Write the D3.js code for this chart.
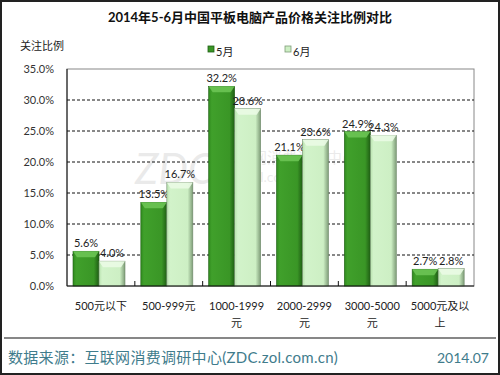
<!DOCTYPE html>
<html lang="zh">
<head>
<meta charset="UTF-8">
<title>2014年5-6月中国平板电脑产品价格关注比例对比</title>
<script src="https://cdnjs.cloudflare.com/ajax/libs/d3/7.8.5/d3.min.js"></script>
<style>
    body { margin: 0; background: #fff; }
    svg { display: block; }
    text { font-family: "Lato", "Noto Sans CJK SC", sans-serif; }
</style>
</head>
<body>
<svg id="chart" width="500" height="375"></svg>
<script>
    const categories = ["500元以下", "500-999元", "1000-1999\n元", "2000-2999\n元", "3000-5000\n元", "5000元及以\n上"];
    const seriesNames = ["5月", "6月"];
    const may = [5.6, 13.5, 32.2, 21.1, 24.9, 2.7];
    const june = [4.0, 16.7, 28.6, 23.6, 24.3, 2.8];
    const yTicks = [0, 5, 10, 15, 20, 25, 30, 35];

    const svg = d3.select("#chart");
    const W = 500, H = 375;
    const m = { left: 67, right: 474, top: 69, bottom: 286 };

    // outer frame
    svg.append("rect").attr("x", 1).attr("y", 1).attr("width", W - 2).attr("height", H - 2)
        .attr("fill", "#fff").attr("stroke", "#222").attr("stroke-width", 2);

    const defs = svg.append("defs");
    function grad(id, stops) {
        const g = defs.append("linearGradient").attr("id", id).attr("x1", 0).attr("x2", 1).attr("y1", 0).attr("y2", 0);
        stops.forEach(s => g.append("stop").attr("offset", s[0]).attr("stop-color", s[1]));
    }
    grad("gMay", [[0, "#2f8a1e"], [0.12, "#40a02b"], [0.8, "#3a9626"], [1, "#1f5e14"]]);
    grad("gJun", [[0, "#b8e2ae"], [0.12, "#d2f3ca"], [0.8, "#cdefc4"], [1, "#7e9c78"]]);
    const topCol = ["#6cc454", "#eafbe4"];
    const fills = ["url(#gMay)", "url(#gJun)"];

    const x = d3.scaleBand().domain(categories).range([m.left, m.right]);
    const xs = d3.scaleBand().domain(seriesNames).range([6, 58]).paddingInner(0);
    const y = d3.scaleLinear().domain([0, 35]).range([m.bottom, m.top]);

    // title
    svg.append("text").attr("x", 250).attr("y", 22).attr("text-anchor", "middle")
        .attr("font-size", 13).attr("font-weight", "bold").attr("fill", "#111")
        .text("2014年5-6月中国平板电脑产品价格关注比例对比");
    svg.append("text").attr("x", 20).attr("y", 50).attr("font-size", 11).attr("fill", "#222").text("关注比例");

    // legend
    const leg = svg.append("g");
    seriesNames.forEach((s, i) => {
        const lx = 208 + i * 77;
        leg.append("rect").attr("x", lx).attr("y", 46).attr("width", 6).attr("height", 6)
            .attr("fill", i === 0 ? "#3a9626" : "#cdefc4").attr("stroke", i === 0 ? "#1f5e14" : "#7e9c78").attr("stroke-width", 0.8);
        leg.append("text").attr("x", lx + 8).attr("y", 56).attr("font-size", 11).attr("fill", "#222").text(s);
    });

    // plot border (top/right)
    svg.append("rect").attr("x", m.left).attr("y", m.top).attr("width", m.right - m.left).attr("height", m.bottom - m.top)
        .attr("fill", "none").attr("stroke", "#888").attr("stroke-width", 1);

    // watermark
    const wm = svg.append("g").attr("fill", "#000").attr("opacity", 0.08);
    wm.append("text").attr("x", 135).attr("y", 184).attr("font-size", 42).attr("font-style", "italic").text("ZDC");
    wm.append("text").attr("x", 222).attr("y", 163).attr("font-size", 15).text("互联网消费调研中心");
    wm.append("text").attr("x", 222).attr("y", 182).attr("font-size", 14).text("zdc.zol.com.cn");

    // grid
    svg.append("g").selectAll("line").data(yTicks.filter(t => t > 0 && t < 35)).join("line")
        .attr("x1", m.left).attr("x2", m.right).attr("y1", d => y(d)).attr("y2", d => y(d))
        .attr("stroke", "#111").attr("stroke-dasharray", "3,2").attr("stroke-width", 1);

    // y axis labels
    svg.append("g").selectAll("text").data(yTicks).join("text")
        .attr("x", 54).attr("y", d => y(d) + 4).attr("text-anchor", "end")
        .attr("font-size", 11).attr("fill", "#333").text(d => d.toFixed(1) + "%");

    // bars
    const series = [may, june];
    const bw = xs.bandwidth();
    series.forEach((vals, si) => {
        const g = svg.append("g");
        vals.forEach((v, ci) => {
            const bx = x(categories[ci]) + xs(seriesNames[si]);
            const by = y(v);
            const bh = m.bottom - by;
            g.append("rect").attr("x", bx).attr("y", by).attr("width", bw).attr("height", bh)
                .attr("fill", fills[si]).attr("stroke", si === 0 ? "#1f5e14" : "#6f8a6a").attr("stroke-width", 0.6);
            const bev = Math.min(6, bh / 2);
            g.append("path")
                .attr("d", `M${bx},${by}L${bx + bw},${by}L${bx + bw - 4},${by + bev}L${bx + 4},${by + bev}Z`)
                .attr("fill", topCol[si]).attr("opacity", 0.9);
            g.append("text").attr("x", bx + bw / 2).attr("y", by - 4).attr("text-anchor", "middle")
                .attr("font-size", 11).attr("fill", "#222").text(v.toFixed(1) + "%");
        });
    });

    // axes lines
    svg.append("line").attr("x1", m.left).attr("x2", m.left).attr("y1", m.top).attr("y2", m.bottom).attr("stroke", "#111");
    svg.append("line").attr("x1", m.left).attr("x2", m.right).attr("y1", m.bottom).attr("y2", m.bottom).attr("stroke", "#111");
    svg.append("g").selectAll("line").data(categories.slice(1)).join("line")
        .attr("x1", d => x(d)).attr("x2", d => x(d)).attr("y1", m.bottom - 5).attr("y2", m.bottom).attr("stroke", "#111");

    // x labels
    const xl = svg.append("g");
    categories.forEach(c => {
        const t = xl.append("text").attr("x", x(c) + x.bandwidth() / 2).attr("y", 310)
            .attr("text-anchor", "middle").attr("font-size", 11).attr("fill", "#222");
        c.split("\n").forEach((line, i) => {
            t.append("tspan").attr("x", x(c) + x.bandwidth() / 2).attr("dy", i === 0 ? 0 : 17).text(line);
        });
    });

    // footer
    svg.append("line").attr("x1", 4).attr("x2", 496).attr("y1", 338).attr("y2", 338).attr("stroke", "#111").attr("stroke-width", 1.2);
    svg.append("text").attr("x", 8).attr("y", 363).attr("font-size", 15).attr("letter-spacing", 0.3).attr("fill", "#3f7c8c")
        .text("数据来源：互联网消费调研中心(ZDC.zol.com.cn)");
    svg.append("text").attr("x", 489).attr("y", 363).attr("text-anchor", "end").attr("font-size", 14).attr("fill", "#3f7c8c")
        .text("2014.07");
</script>
</body>
</html>
